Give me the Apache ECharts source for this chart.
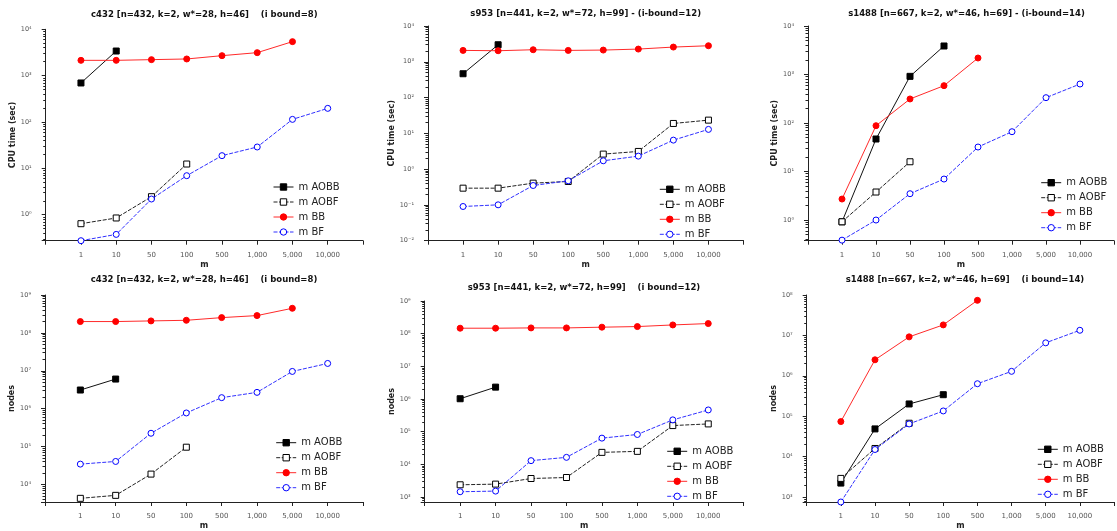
<!DOCTYPE html>
<html><head><meta charset="utf-8">
<script src="https://cdn.jsdelivr.net/npm/echarts@6/dist/echarts.min.js"></script>
<style>html,body{margin:0;padding:0;background:#fff}#c{width:1117px;height:531px}</style>
</head><body><div id="c"></div>
<script>
// ---- data ----
const mValues = ['1', '10', '50', '100', '500', '1,000', '5,000', '10,000'];
const seriesNames = ['m AOBB', 'm AOBF', 'm BB', 'm BF'];

const cpuC432_AOBB = [695, 3400];
const cpuC432_AOBF = [0.64, 0.85, 2.45, 12.4];
const cpuC432_BB = [2140, 2140, 2215, 2290, 2700, 3135, 5420];
const cpuC432_BF = [0.275, 0.376, 2.18, 6.95, 18.8, 28.9, 114, 197];

const cpuS953_AOBB = [463, 2990];
const cpuS953_AOBF = [0.294, 0.294, 0.406, 0.452, 2.63, 3.12, 18.9, 23.4];
const cpuS953_BB = [2080, 2035, 2170, 2080, 2125, 2265, 2577, 2808];
const cpuS953_BF = [0.0904, 0.1006, 0.349, 0.472, 1.71, 2.31, 6.47, 12.9];

const cpuS1488_AOBB = [0.92, 46.8, 916, 3870];
const cpuS1488_AOBF = [0.92, 3.78, 15.9];
const cpuS1488_BB = [2.71, 88, 313, 589, 2188];
const cpuS1488_BF = [0.385, 1.0, 3.49, 7.0, 32, 66.2, 333, 637];

const nodesC432_AOBB = [3.1e6, 6.04e6];
const nodesC432_AOBF = [4285, 5140, 18700, 96000];
const nodesC432_BB = [1.99e8, 1.99e8, 2.07e8, 2.15e8, 2.53e8, 2.86e8, 4.46e8];
const nodesC432_BF = [34300, 40300, 2.24e5, 7.69e5, 1.95e6, 2.69e6, 9.6e6, 1.56e7];

const nodesS953_AOBB = [1.02e6, 2.31e6];
const nodesS953_AOBF = [2370, 2485, 3690, 3960, 23300, 25000, 1.54e5, 1.73e5];
const nodesS953_BB = [1.47e8, 1.47e8, 1.5e8, 1.5e8, 1.58e8, 1.65e8, 1.85e8, 2.04e8];
const nodesS953_BF = [1453, 1520, 13000, 16400, 63500, 82200, 2.3e5, 4.63e5];

const nodesS1488_AOBB = [2215, 48500, 2.01e5, 3.41e5];
const nodesS1488_AOBF = [2890, 15900, 67000];
const nodesS1488_BB = [73600, 2.49e6, 9.2e6, 1.82e7, 7.38e7];
const nodesS1488_BF = [753, 15000, 64400, 1.35e5, 6.37e5, 1.29e6, 6.55e6, 1.34e7];

const titles = [
  'c432 [n=432, k=2, w*=28, h=46]    (i bound=8)',
  's953 [n=441, k=2, w*=72, h=99] - (i-bound=12)',
  's1488 [n=667, k=2, w*=46, h=69] - (i-bound=14)',
  'c432 [n=432, k=2, w*=28, h=46]    (i bound=8)',
  's953 [n=441, k=2, w*=72, h=99]    (i bound=12)',
  's1488 [n=667, k=2, w*=46, h=69]    (i bound=14)'
];
const yNames = ['CPU time (sec)', 'CPU time (sec)', 'CPU time (sec)', 'nodes', 'nodes', 'nodes'];
const yMins = [0.275, 0.01, 0.375, 3430, 705, 753];
const yMaxs = [1e4, 1e4, 1e4, 1e9, 1e9, 1e8];

// ---- layout ----
const panels = [
  { data: [cpuC432_AOBB, cpuC432_AOBF, cpuC432_BB, cpuC432_BF],
    grid: { left: 45.7, top: 29.3, width: 317.3, height: 211.4 }, t: [204.3, 14.3], lg: [273, 182], nameGap: 28 },
  { data: [cpuS953_AOBB, cpuS953_AOBF, cpuS953_BB, cpuS953_BF],
    grid: { left: 428, top: 26, width: 315.5, height: 214.7 }, t: [585.7, 13.5], lg: [659.3, 184.3], nameGap: 29 },
  { data: [cpuS1488_AOBB, cpuS1488_AOBF, cpuS1488_BB, cpuS1488_BF],
    grid: { left: 808, top: 26, width: 317, height: 214.7 }, t: [966.5, 13.5], lg: [1040.7, 177.7], nameGap: 27 },
  { data: [nodesC432_AOBB, nodesC432_AOBF, nodesC432_BB, nodesC432_BF],
    grid: { left: 45, top: 295, width: 318, height: 207.7 }, t: [204, 280], lg: [275.7, 437.7], nameGap: 27 },
  { data: [nodesS953_AOBB, nodesS953_AOBF, nodesS953_BB, nodesS953_BF],
    grid: { left: 424.7, top: 301, width: 319, height: 202.3 }, t: [584, 287.7], lg: [666.7, 446.3], nameGap: 26 },
  { data: [nodesS1488_AOBB, nodesS1488_AOBF, nodesS1488_BB, nodesS1488_BF],
    grid: { left: 806.7, top: 295, width: 317.5, height: 207.7 }, t: [965, 280], lg: [1037.3, 444.3], nameGap: 27 }
];

const styles = [
  { symbol: 'rect', fill: '#000', stroke: '#000', line: '#111', type: 'solid' },
  { symbol: 'rect', fill: '#fff', stroke: '#000', line: '#222', type: [4, 1.5] },
  { symbol: 'circle', fill: '#ff0000', stroke: '#ff0000', line: '#ff2a2a', type: 'solid' },
  { symbol: 'circle', fill: '#fff', stroke: '#0000ff', line: '#3030ff', type: [4, 1.5] }
];

const FONT = '"DejaVu Sans", sans-serif';
const SUP = { '0': '\u2070', '1': '\u00b9', '2': '\u00b2', '3': '\u00b3', '4': '\u2074', '5': '\u2075', '6': '\u2076', '7': '\u2077', '8': '\u2078', '9': '\u2079', '-': '\u207b' };
function powLabel(v) {
  const l = Math.log10(v);
  const e = Math.round(l);
  if (Math.abs(l - e) > 1e-6) return '';
  return '10' + String(e).split('').map(c => SUP[c]).join('');
}

const grid = [], xAxis = [], yAxis = [], series = [], legend = [], graphic = [];
panels.forEach((p, i) => {
  grid.push(Object.assign({ containLabel: false }, p.grid));
  xAxis.push({
    type: 'value', gridIndex: i, min: 0, max: 9, interval: 1,
    axisLine: { show: true, onZero: false, lineStyle: { color: '#222', width: 1 } },
    axisTick: { show: true, length: 4, lineStyle: { color: '#222' } },
    axisLabel: { formatter: v => mValues[v - 1] || '', color: '#555', fontSize: 7, margin: 11, fontFamily: FONT },
    splitLine: { show: false },
    name: 'm', nameLocation: 'middle', nameGap: 20,
    nameTextStyle: { fontWeight: 'bold', fontSize: 8, color: '#222', fontFamily: FONT }
  });
  yAxis.push({
    type: 'log', logBase: 10, gridIndex: i, min: yMins[i], max: yMaxs[i],
    axisLine: { show: true, onZero: false, lineStyle: { color: '#222', width: 1 } },
    axisTick: { show: true, length: 4, lineStyle: { color: '#222' } },
    minorTick: { show: true, splitNumber: 9, length: 2.5, lineStyle: { color: '#222' } },
    axisLabel: { formatter: powLabel, color: '#555', fontSize: 6.5, margin: 14, fontFamily: FONT },
    splitLine: { show: false }, minorSplitLine: { show: false },
    name: yNames[i], nameLocation: 'middle', nameGap: p.nameGap,
    nameTextStyle: { fontWeight: 'bold', fontSize: 8, color: '#222', fontFamily: FONT }
  });
  p.data.forEach((arr, k) => {
    const s = styles[k];
    series.push({
      type: 'line', name: seriesNames[k], xAxisIndex: i, yAxisIndex: i,
      data: arr.map((v, j) => [j + 1, v]),
      symbol: s.symbol, symbolSize: 6,
      lineStyle: { color: s.line, width: 1, type: s.type },
      itemStyle: { color: s.fill, borderColor: s.stroke, borderWidth: 1 },
      emphasis: { disabled: true }, z: 2 + k
    });
  });
  legend.push({
    data: seriesNames, orient: 'vertical', left: p.lg[0], top: p.lg[1],
    itemWidth: 20, itemHeight: 8, itemGap: 5, padding: 0, selectedMode: false,
    itemStyle: { borderWidth: 1 }, lineStyle: { width: 1 },
    textStyle: { fontSize: 10, color: '#222', fontFamily: FONT }
  });
  graphic.push({
    type: 'text', x: p.t[0], y: p.t[1],
    style: { text: titles[i], font: 'bold 8.5px "DejaVu Sans"', fill: '#111', align: 'center', verticalAlign: 'middle' }
  });
});

const chart = echarts.init(document.getElementById('c'), null, { renderer: 'canvas' });
chart.setOption({
  animation: false, backgroundColor: '#fff',
  grid, xAxis, yAxis, series, legend, graphic
});
</script></body></html>
